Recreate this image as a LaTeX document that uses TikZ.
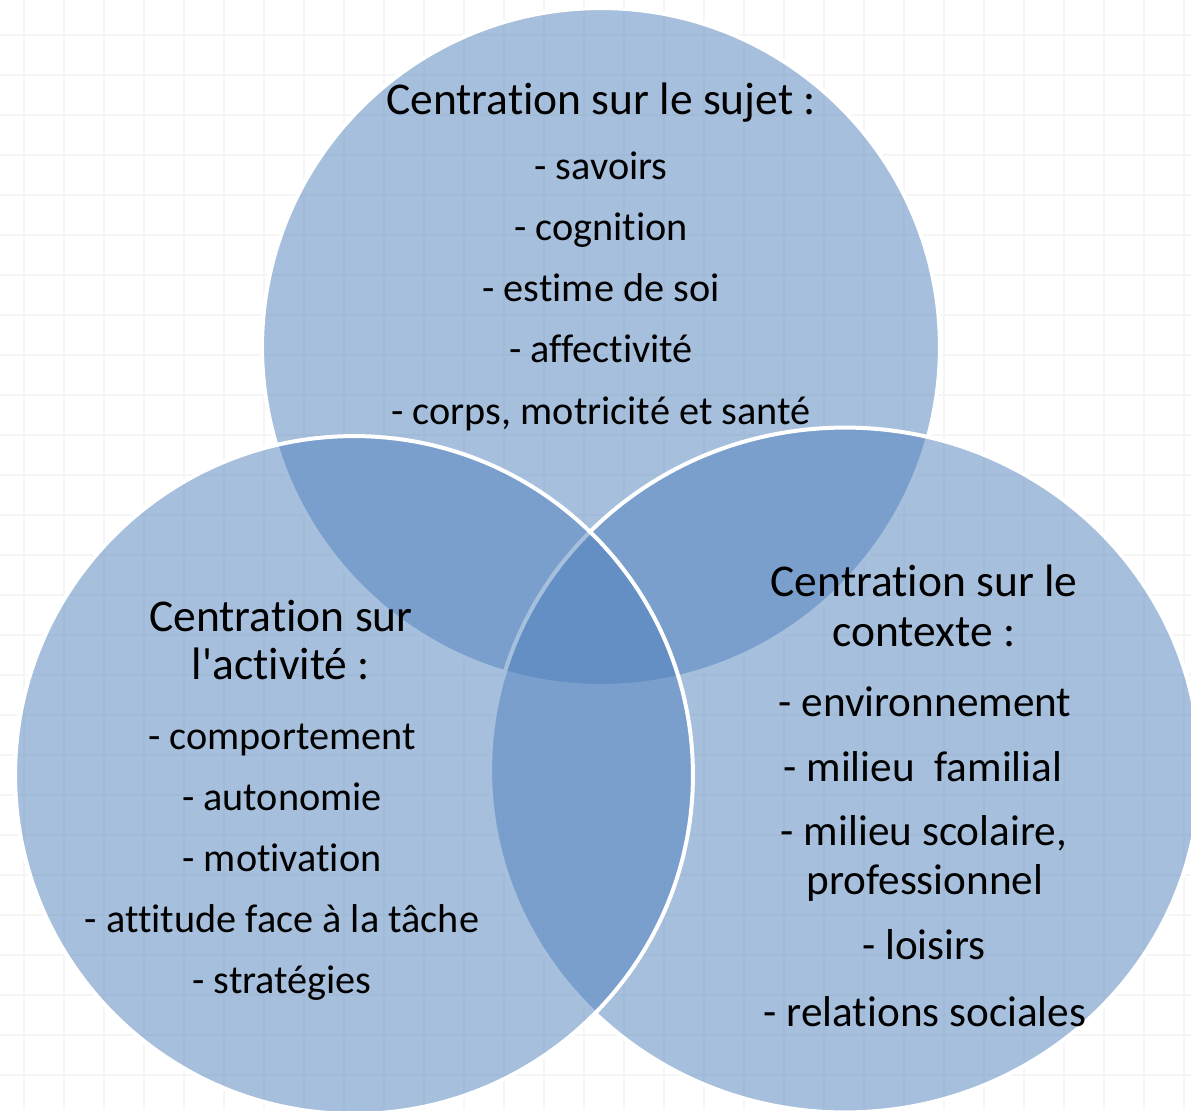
\documentclass[tikz,border=0pt]{standalone}
\usepackage{fontspec}
\setmainfont{Carlito}[Ligatures={NoCommon}]
\usepackage{xcolor}
\usepackage{tikz}
\usetikzlibrary{positioning}

\definecolor{vennblue}{HTML}{4F81BD}
\definecolor{gridgray}{HTML}{F5F5F5}

\tikzset{
	venn/.style={fill=vennblue, fill opacity=0.5, draw=white, draw opacity=1, line width=0.08cm},
	gridline/.style={gridgray, line width=0.035cm},
	vennlabel/.style={anchor=mid, inner sep=0pt, text=black, font=\fontsize{25.9}{28.5}\selectfont},
	vennitem/.style={vennlabel, font=\fontsize{22.9}{25}\selectfont},
	ctxitem/.style={vennlabel, font=\fontsize{24.6}{27}\selectfont}
}

\begin{document}
\begin{tikzpicture}[x=0.02cm,y=-0.02cm]
	\useasboundingbox (0,0) rectangle (1191,1110);
	\clip (0,0) rectangle (1191,1110);
	\fill[white] (0,0) rectangle (1191,1110);

	% draw grid
	\foreach \gx in {24,64,...,1184} {
	  \draw[gridline] (\gx,0) -- (\gx,1110);
	}
	\foreach \gy in {35,75,...,1095} {
	  \draw[gridline] (0,\gy) -- (1191,\gy);
	}

	\coordinate (Csujet) at (601,347);
	\coordinate (Ccontexte) at (845,770);
	\coordinate (Cactivite) at (354,775);

	% draw circles
	\draw[venn] (Csujet) circle [radius=6.78cm];
	\draw[venn] (Ccontexte) ellipse [x radius=7.1cm, y radius=6.85cm];
	\draw[venn] (Cactivite) circle [radius=6.78cm];

	% text of the top circle
	\node[vennlabel] (sujet0) at (601,110) {Centration sur le sujet :};
	\foreach \txt [count=\i] in {- savoirs, - cognition, - estime de soi, - affectivité, {- corps, motricité et santé}} {
	  \node[vennitem] (sujet\i) at (601,175+61.2*\i-61.2) {\txt};
	}

	% text of the left circle
	\node[vennlabel] (activite0) at (281,627) {Centration sur};
	\node[vennlabel] (activite00) at (281,675) {l\textquotesingle activité :};
	\foreach \txt [count=\i] in {- comportement, - autonomie, - motivation, - attitude face à la tâche, - stratégies} {
	  \node[vennitem] (activite\i) at (282,745+61*\i-61) {\txt};
	}

	% text of the right circle
	\node[vennlabel] (contexte0) at (924,592) {Centration sur le};
	\node[vennlabel] (contexte00) at (924,642) {contexte :};
	\node[ctxitem] (contexte1) at (925,712) {- environnement};
	\node[ctxitem] (contexte2) at (923,777) {- milieu~ familial};
	\node[ctxitem] (contexte3) at (924,841) {- milieu scolaire,};
	\node[ctxitem] (contexte4) at (925,890) {professionnel};
	\node[ctxitem] (contexte5) at (924,955) {- loisirs};
	\node[ctxitem] (contexte6) at (925,1022) {- relations sociales};
\end{tikzpicture}
\end{document}
